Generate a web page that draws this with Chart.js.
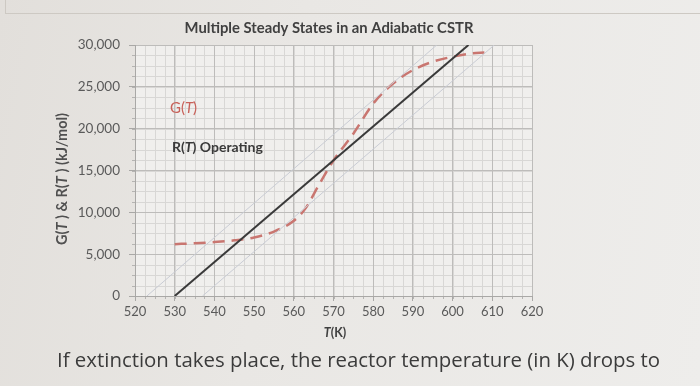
<!DOCTYPE html>
<html>
<head>
<meta charset="utf-8">
<script src="https://cdn.jsdelivr.net/npm/chart.js@4.4.1/dist/chart.umd.min.js"></script>
<style>
  html, body { margin: 0; padding: 0; }
  body { width: 700px; height: 386px; overflow: hidden; position: relative;
         background: linear-gradient(100deg, #e2dfdb 0%, #e9e7e4 40%, #eeedeb 100%); }
  #wrap { position: absolute; left: 0; top: 0; width: 700px; height: 386px; }
  #corner { position: absolute; left: 5px; top: -2px; width: 700px; height: 15px;
            border-left: 1px solid #cdc9c3; border-bottom: 1px solid #cdc9c3; }
  #question { position: absolute; left: 57px; top: 345px; font-family: "Open Sans", sans-serif;
              font-size: 20.4px; color: #3b3b3b; white-space: nowrap; }
</style>
</head>
<body>
<div id="corner"></div>
<div id="wrap"><canvas id="c" width="700" height="386"></canvas></div>
<div id="question">If extinction takes place, the reactor temperature (in K) drops to</div>
<script>
// ---- data ----
const gTemps  = [530, 535, 540, 545, 550, 555, 560, 563, 566, 570, 575, 580, 585, 590, 595, 600, 605, 608];
const gValues = [6200, 6300, 6450, 6650, 7000, 7700, 9000, 10500, 13000, 16200, 19400, 23000, 25400, 27000, 28000, 28600, 29000, 29100];
const rTemps  = [530, 604];
const rValues = [0, 30000];
const rLowTemps  = [523, 596];
const rLowValues = [0, 30000];
const rHighTemps  = [537, 610.5];
const rHighValues = [0, 30000];
const xTickLabels = ['520', '530', '540', '550', '560', '570', '580', '590', '600', '610', '620'];
const yTickLabels = ['0', '5,000', '10,000', '15,000', '20,000', '25,000', '30,000'];
const xMin = 520, xMax = 620, xStep = 10, xMinor = 2.5;
const yMin = 0, yMax = 30000, yStep = 5000, yMinor = 1250;
const titleText = 'Multiple Steady States in an Adiabatic CSTR';

const pts = (xs, ys) => xs.map((x, i) => ({x: x, y: ys[i]}));

const FONT = 'Lato, "Open Sans", sans-serif';

function drawRich(ctx, segs, x, y, align) {
  let total = 0;
  const widths = segs.map(s => { ctx.font = s.font; const w = ctx.measureText(s.text).width; total += w; return w; });
  let cx = align === 'center' ? x - total / 2 : x;
  ctx.textBaseline = 'middle';
  ctx.textAlign = 'left';
  segs.forEach((s, i) => { ctx.font = s.font; ctx.fillStyle = s.color; ctx.fillText(s.text, cx, y); cx += widths[i]; });
}

const bgPlugin = {
  id: 'bgMinor',
  beforeDraw(chart) {
    const {ctx, chartArea: a, scales: {x, y}} = chart;
    ctx.save();
    ctx.fillStyle = '#f0efed';
    ctx.fillRect(a.left, a.top, a.right - a.left, a.bottom - a.top);
    ctx.strokeStyle = '#d8d7d5';
    ctx.lineWidth = 1;
    ctx.beginPath();
    for (let v = xMin; v <= xMax + 1e-9; v += xMinor) {
      const px = Math.round(x.getPixelForValue(v)) + 0.5;
      ctx.moveTo(px, a.top); ctx.lineTo(px, a.bottom);
    }
    for (let v = yMin; v <= yMax + 1e-9; v += yMinor) {
      const py = Math.round(y.getPixelForValue(v)) + 0.5;
      ctx.moveTo(a.left, py); ctx.lineTo(a.right, py);
    }
    ctx.stroke();
    // minor tick marks on axes
    ctx.strokeStyle = '#b5b4b2';
    ctx.beginPath();
    for (let v = xMin; v <= xMax + 1e-9; v += xMinor) {
      const px = Math.round(x.getPixelForValue(v)) + 0.5;
      ctx.moveTo(px, a.bottom); ctx.lineTo(px, a.bottom + 3);
    }
    for (let v = yMin; v <= yMax + 1e-9; v += yMinor) {
      const py = Math.round(y.getPixelForValue(v)) + 0.5;
      ctx.moveTo(a.left, py); ctx.lineTo(a.left - 3, py);
    }
    ctx.stroke();
    ctx.restore();
  },
  afterDraw(chart) {
    const {ctx, chartArea: a, scales: {x, y}} = chart;
    ctx.save();
    // title
    drawRich(ctx, [{text: titleText, font: 'bold 14.8px ' + FONT, color: '#404040'}], 329, 28, 'center');
    // x title
    drawRich(ctx, [
      {text: 'T', font: 'italic bold 12.5px ' + FONT, color: '#404040'},
      {text: '(K)', font: 'bold 12.5px ' + FONT, color: '#404040'}
    ], 335, 333, 'center');
    // annotations
    drawRich(ctx, [
      {text: 'G(', font: '15px ' + FONT, color: '#c8625a'},
      {text: 'T', font: 'italic 15px ' + FONT, color: '#c8625a'},
      {text: ')', font: '15px ' + FONT, color: '#c8625a'}
    ], x.getPixelForValue(528.8), y.getPixelForValue(22400), 'left');
    drawRich(ctx, [
      {text: 'R(', font: 'bold 14px ' + FONT, color: '#3a3a3a'},
      {text: 'T', font: 'italic bold 14px ' + FONT, color: '#3a3a3a'},
      {text: ') Operating', font: 'bold 14px ' + FONT, color: '#3a3a3a'}
    ], x.getPixelForValue(529.3), y.getPixelForValue(17800), 'left');
    // y title
    ctx.translate(62, 179);
    ctx.rotate(-Math.PI / 2);
    drawRich(ctx, [
      {text: 'G(', font: 'bold 14.5px ' + FONT, color: '#505050'},
      {text: 'T', font: 'italic bold 14.5px ' + FONT, color: '#505050'},
      {text: ' ) & R(', font: 'bold 14.5px ' + FONT, color: '#505050'},
      {text: 'T', font: 'italic bold 14.5px ' + FONT, color: '#505050'},
      {text: ' ) (kJ/mol)', font: 'bold 14.5px ' + FONT, color: '#505050'}
    ], 0, 0, 'center');
    ctx.restore();
  }
};

new Chart(document.getElementById('c'), {
  type: 'scatter',
  data: {
    datasets: [
      {label: 'R low', data: pts(rLowTemps, rLowValues), showLine: true, borderColor: '#c9ccd4', borderWidth: 1, pointRadius: 0},
      {label: 'R high', data: pts(rHighTemps, rHighValues), showLine: true, borderColor: '#c9ccd4', borderWidth: 1, pointRadius: 0},
      {label: 'R(T) Operating', data: pts(rTemps, rValues), showLine: true, borderColor: '#3a3a3a', borderWidth: 2, pointRadius: 0},
      {label: 'G(T)', data: pts(gTemps, gValues), showLine: true, borderColor: '#c97670', borderWidth: 2.5,
       borderDash: [12, 7], pointRadius: 0, cubicInterpolationMode: 'monotone'}
    ]
  },
  options: {
    responsive: false,
    animation: false,
    layout: {padding: {left: 0, top: 45, right: 168, bottom: 40}},
    plugins: {legend: {display: false}, tooltip: {enabled: false}, title: {display: false}},
    scales: {
      x: {
        type: 'linear', min: xMin, max: xMax,
        afterFit(s) { s.height = 50; },
        afterBuildTicks(s) { s.ticks = xTickLabels.map(v => ({value: Number(v)})); },
        ticks: {stepSize: xStep, color: '#5a5a5a', font: {family: FONT, size: 13}, padding: 3,
                callback: (v, i) => xTickLabels[i], maxRotation: 0, autoSkip: false},
        grid: {color: '#bdbcba', tickColor: '#a9a8a6', tickLength: 5},
        border: {color: '#a9a8a6'}
      },
      y: {
        type: 'linear', min: yMin, max: yMax,
        afterFit(s) { s.width = 135; },
        afterBuildTicks(s) { s.ticks = yTickLabels.map(v => ({value: Number(v.replace(/,/g, ''))})); },
        ticks: {stepSize: yStep, color: '#5a5a5a', font: {family: FONT, size: 13.5}, padding: 9,
                callback: (v, i) => yTickLabels[i]},
        grid: {color: '#bdbcba', tickColor: '#a9a8a6', tickLength: 6},
        border: {color: '#a9a8a6'}
      }
    }
  },
  plugins: [bgPlugin]
});
</script>
</body>
</html>
